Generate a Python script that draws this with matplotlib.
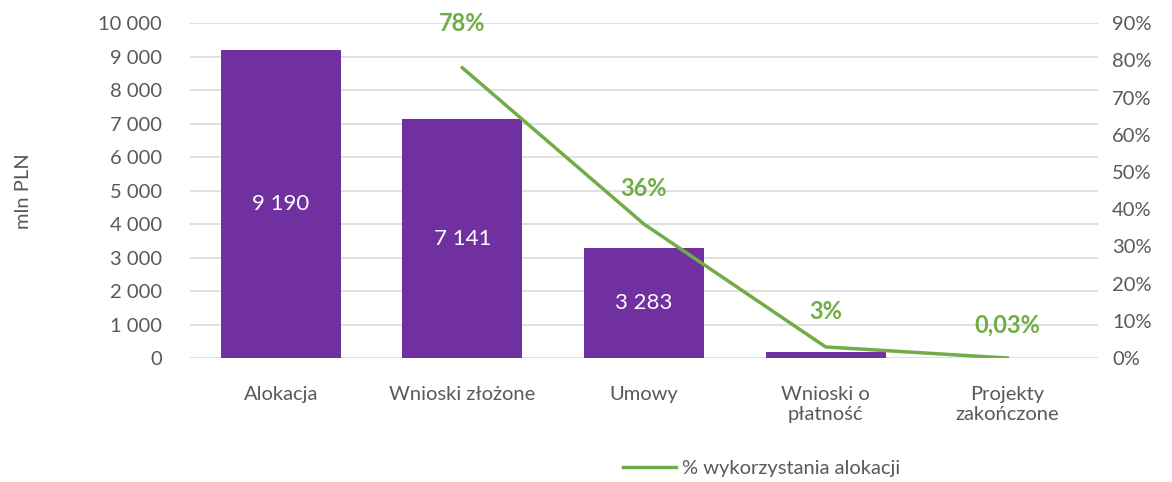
import matplotlib.pyplot as plt
from matplotlib.ticker import FuncFormatter

plt.rcParams['font.family'] = ['Lato', 'DejaVu Sans']

# dane
kategorie = ['Alokacja', 'Wnioski złożone', 'Umowy', 'Wnioski o\npłatność', 'Projekty\nzakończone']
kwoty = [9190, 7141, 3283, 180, 0]
kwoty_etykiety = ['9 190', '7 141', '3 283', '180', '']
procent_kat = [1, 2, 3, 4]
procent = [0.78, 0.36, 0.03, 0.0003]
procent_etykiety = ['78%', '36%', '3%', '0,03%']

fiolet = '#7030A0'
zielony = '#70AD47'
szary = '#595959'

fig = plt.figure(figsize=(11.72, 4.82), dpi=100)
ax = fig.add_axes([0.162, 0.257, 0.775, 0.695])
ax2 = ax.twinx()

x = list(range(len(kategorie)))
bars = ax.bar(x, kwoty, width=0.66, color=fiolet, zorder=2)
for b, v, t in zip(bars, kwoty, kwoty_etykiety):
    if not t:
        continue
    # etykieta małego słupka ląduje nad nim (biała, na białym tle)
    y = v / 2 if v > 1000 else v + 480
    ax.text(b.get_x() + b.get_width() / 2, y, t, ha='center', va='center',
            color='white', fontsize=16, zorder=3)

ax.set_ylim(0, 10000)
ax.set_yticks(range(0, 10001, 1000))
ax.yaxis.set_major_formatter(FuncFormatter(lambda v, p: f'{int(v):,}'.replace(',', ' ')))
ax.set_xlim(-0.5, 4.5)
ax.set_xticks(x)
ax.set_xticklabels(kategorie)
ax.grid(axis='y', color='#D9D9D9', linewidth=1.2, zorder=0)
ax.set_axisbelow(True)
ax.set_ylabel('mln PLN', fontsize=14.5, color=szary, labelpad=48)

ax2.plot(procent_kat, procent, color=zielony, linewidth=2.5, zorder=4,
         label='% wykorzystania alokacji')
ax2.set_ylim(0, 0.9)
ax2.set_yticks([i / 10 for i in range(10)])
ax2.yaxis.set_major_formatter(FuncFormatter(lambda v, p: f'{round(v * 100)}%'))
offs = [0.12, 0.095, 0.095, 0.09]
for xi, v, t, o in zip(procent_kat, procent, procent_etykiety, offs):
    ax2.text(xi, v + o, t, ha='center', va='center', color=zielony,
             fontsize=17, fontweight='bold')

for a in (ax, ax2):
    for s in a.spines.values():
        s.set_visible(False)
    a.tick_params(length=0, labelsize=14.5, colors=szary)
ax.tick_params(axis='x', pad=20)
ax.tick_params(axis='y', pad=20)
ax2.tick_params(axis='y', pad=10)

fig.legend(handles=ax2.get_lines(), loc='center', bbox_to_anchor=(0.65, 0.028),
           frameon=False, fontsize=14.5, labelcolor=szary, handlelength=2.6,
           handletextpad=0.3)

fig.savefig('out.png', dpi=100)
